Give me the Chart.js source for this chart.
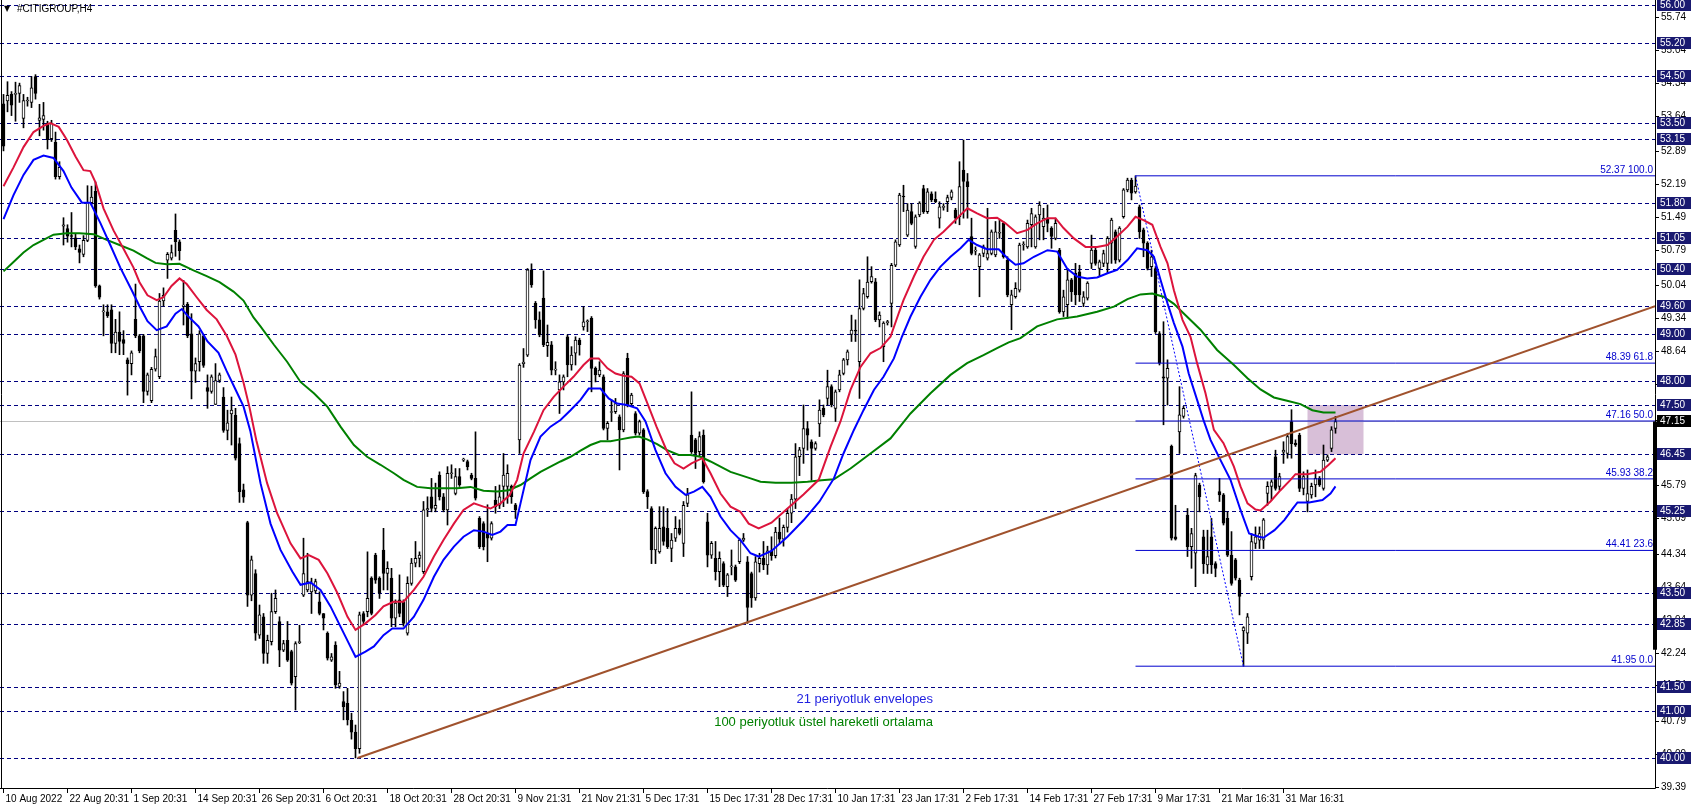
<!DOCTYPE html>
<html lang="tr">
<head>
<meta charset="UTF-8">
<title>#CITIGROUP,H4</title>
<script src="https://cdn.jsdelivr.net/npm/chart.js"></script>
<style>
  html, body { margin: 0; padding: 0; background: #fff; overflow: hidden; }
  canvas { display: block; }
</style>
</head>
<body>
<canvas id="chart" width="1695" height="810"></canvas>
<script>
// time labels of the x axis and the bar index they sit on
const timeLabels = ['10 Aug 2022', '22 Aug 20:31', '1 Sep 20:31', '14 Sep 20:31', '26 Sep 20:31', '6 Oct 20:31',
  '18 Oct 20:31', '28 Oct 20:31', '9 Nov 21:31', '21 Nov 21:31', '5 Dec 17:31', '15 Dec 17:31', '28 Dec 17:31',
  '10 Jan 17:31', '23 Jan 17:31', '2 Feb 17:31', '14 Feb 17:31', '27 Feb 17:31', '9 Mar 17:31', '21 Mar 16:31', '31 Mar 16:31'];
const timeIdx = [0, 16, 32, 48, 64, 80, 96, 112, 128, 144, 160, 176, 192, 208, 224, 240, 256, 272, 288, 304, 320];

// H4 candles: [open, high, low, close], one per bar index
const ohlc = [
  [53.90,54.10,52.90,53.00],[53.96,54.37,53.73,54.08],[54.10,54.16,53.65,53.87],[54.10,54.36,53.53,54.12],[54.12,54.34,53.93,54.29],[53.59,54.10,53.39,53.97],[53.96,54.04,53.85,53.98],[53.93,54.48,53.82,54.24],[54.48,54.52,54.00,54.12],[53.55,53.89,53.22,53.60],
  [53.57,53.93,53.34,53.65],[53.49,53.53,52.94,53.14],[53.16,53.55,53.10,53.49],[53.08,53.30,52.30,52.35],[52.35,52.67,52.30,52.55],[51.30,51.48,50.90,51.33],[51.25,51.33,50.96,51.09],[51.10,51.59,50.86,51.08],[51.05,51.13,50.80,50.86],[50.82,50.90,50.52,50.74],
  [50.70,51.10,50.65,51.00],[51.00,52.16,50.97,51.80],[51.80,52.15,51.75,51.92],[52.04,52.24,50.00,50.03],[50.03,50.05,49.75,49.79],[49.48,49.63,48.97,49.50],[49.48,49.63,49.36,49.40],[49.52,49.63,48.61,48.81],[48.81,49.32,48.61,49.05],[49.05,49.48,48.57,48.85],
  [48.89,49.08,48.57,48.81],[48.46,48.50,47.71,48.38],[48.38,48.65,48.14,48.61],[49.32,50.07,48.93,48.97],[48.97,49.00,48.61,48.65],[48.97,49.00,47.55,47.79],[47.79,48.18,47.71,48.14],[47.59,48.30,47.55,48.26],[48.26,48.69,48.22,48.53],[48.10,49.87,48.06,49.71],
  [49.71,49.99,49.60,49.83],[50.58,50.74,50.19,50.70],[50.62,50.90,50.58,50.74],[51.21,51.56,50.66,50.97],[50.97,51.01,50.58,50.78],[49.60,50.15,49.20,49.62],[49.64,49.68,48.93,48.97],[49.01,49.44,47.63,48.22],[48.22,48.50,47.98,48.38],[48.42,49.08,48.22,49.01],
  [48.97,49.00,48.30,48.34],[47.87,48.14,47.43,47.79],[47.79,48.14,47.75,48.10],[47.51,48.38,47.51,48.02],[48.02,48.18,47.98,48.14],[47.67,47.87,46.92,46.96],[46.96,47.39,46.76,47.12],[47.31,47.67,46.65,47.39],[47.28,47.43,46.33,46.37],[46.68,46.80,45.43,45.66],
  [45.70,45.82,45.43,45.54],[45.00,45.03,43.22,43.46],[43.46,44.29,43.34,44.21],[43.92,44.00,42.50,42.65],[42.61,43.25,42.54,43.04],[43.00,43.07,42.01,42.22],[42.22,42.61,42.01,42.50],[42.47,43.50,42.40,43.11],[43.11,43.57,43.07,43.39],[42.90,43.00,41.94,42.29],
  [42.29,42.50,42.26,42.43],[42.50,42.90,42.05,42.08],[42.26,42.29,41.55,41.59],[41.73,42.47,41.02,42.43],[42.45,42.82,42.43,42.46],[43.46,44.67,43.43,43.92],[43.57,44.35,43.53,43.75],[43.53,43.82,43.07,43.71],[43.55,43.80,43.50,43.75],[43.32,43.53,43.04,43.07],
  [43.07,43.07,42.72,42.97],[42.65,42.68,42.08,42.12],[42.08,42.22,42.05,42.15],[42.40,42.47,41.48,41.55],[41.52,41.84,41.48,41.59],[41.20,41.41,40.81,41.09],[41.16,41.48,40.70,40.81],[40.80,40.95,40.40,40.55],[40.55,40.70,40.00,40.20],[40.20,43.10,40.10,43.04],
  [43.07,43.11,42.83,42.90],[43.11,44.38,43.00,43.39],[43.82,43.85,43.04,43.07],[44.31,44.35,43.71,43.78],[43.82,43.85,43.39,43.50],[44.42,44.88,43.57,43.92],[43.92,44.17,43.57,44.03],[43.82,44.03,42.79,42.97],[42.97,43.36,42.79,43.29],[43.36,43.89,43.00,43.07],
  [43.32,43.36,42.80,42.86],[42.65,43.85,42.61,43.71],[43.71,44.24,43.67,44.14],[44.14,44.60,44.06,44.24],[44.24,44.38,44.06,44.31],[43.96,45.45,43.92,45.27],[45.27,45.55,45.13,45.30],[45.55,45.94,45.23,45.30],[45.30,45.84,45.23,45.37],[46.01,46.08,45.48,45.55],
  [45.55,45.62,45.23,45.27],[45.27,46.19,44.95,46.05],[46.04,46.23,45.94,46.06],[45.62,46.15,45.59,45.98],[45.98,46.15,45.77,45.80],[46.33,46.37,46.30,46.34],[46.30,46.33,46.12,46.19],[46.01,46.05,45.91,45.94],[45.94,46.93,45.48,45.52],[45.09,45.13,44.45,44.49],
  [44.98,45.02,44.42,44.49],[44.77,45.38,44.17,44.67],[44.67,45.02,44.63,44.98],[45.48,45.77,45.20,45.34],[45.37,45.80,45.30,45.55],[45.77,46.47,45.34,46.01],[45.77,46.23,45.41,46.05],[45.77,45.80,45.41,45.55],[45.38,45.41,45.09,45.27],[46.76,48.38,46.47,48.35],
  [48.38,48.70,48.30,48.41],[48.56,50.40,48.53,50.37],[50.37,50.50,50.00,50.05],[49.66,49.70,49.13,49.31],[49.31,49.48,48.95,48.99],[49.77,50.35,48.74,48.78],[48.76,49.20,48.53,48.83],[48.78,48.85,48.14,48.24],[48.24,48.42,48.14,48.25],[47.82,48.14,47.32,47.99],
  [47.99,48.14,47.82,48.10],[48.95,48.99,48.10,48.35],[48.35,48.74,48.24,48.56],[48.60,48.95,48.35,48.88],[48.88,48.92,48.56,48.78],[49.16,49.59,49.09,49.27],[49.27,49.31,49.06,49.28],[49.34,49.38,47.78,48.28],[48.28,48.31,47.99,48.14],[48.14,48.42,48.10,48.24],
  [48.10,48.14,46.97,47.00],[47.00,47.15,46.76,47.11],[47.34,47.61,47.15,47.35],[47.36,47.64,47.32,47.53],[47.25,47.29,46.12,46.97],[46.97,48.21,46.93,48.17],[48.49,48.60,47.46,47.50],[47.53,47.75,47.50,47.71],[47.32,47.36,46.86,46.90],[46.90,47.18,46.86,47.15],
  [46.97,47.00,45.62,45.66],[45.66,45.70,45.30,45.55],[45.30,45.34,44.13,44.42],[44.42,44.91,44.13,44.88],[44.38,45.34,44.35,44.88],[44.91,45.34,44.52,44.60],[44.88,45.30,44.45,44.49],[44.45,44.77,44.17,44.63],[44.67,45.13,44.60,44.88],[44.88,45.06,44.74,44.77],
  [44.56,45.45,44.28,45.37],[45.41,45.73,45.34,45.59],[46.86,47.78,46.47,46.51],[46.76,46.79,46.15,46.47],[46.51,46.93,46.40,46.83],[46.86,46.97,45.84,45.87],[45.02,45.20,44.06,44.31],[44.31,44.60,44.24,44.56],[44.24,44.60,43.78,43.96],[43.96,44.38,43.64,44.24],
  [44.13,44.17,43.64,43.67],[43.64,43.92,43.43,43.89],[44.06,44.42,43.89,44.07],[44.06,44.10,43.75,43.78],[44.17,44.67,44.13,44.63],[44.63,44.77,44.60,44.67],[44.17,44.28,42.86,43.20],[43.92,43.95,43.20,43.40],[43.40,44.28,43.35,44.17],[44.13,44.35,43.95,44.24],
  [44.24,44.60,44.00,44.10],[44.10,44.50,43.90,44.40],[44.40,44.70,44.20,44.30],[44.30,44.90,44.25,44.80],[44.80,45.10,44.55,44.65],[44.65,44.95,44.50,44.90],[44.90,45.30,44.80,45.20],[45.20,45.60,45.00,45.50],[45.50,46.68,45.30,46.40],[46.40,46.60,46.00,46.55],
  [46.58,47.50,46.26,47.00],[47.00,47.15,46.54,46.86],[46.72,46.76,45.90,46.58],[46.58,46.72,46.54,46.68],[47.10,47.61,46.83,47.39],[47.43,47.50,47.25,47.29],[47.64,48.24,47.50,47.89],[47.89,47.93,47.46,47.50],[47.43,47.82,47.15,47.78],[47.82,48.24,47.78,48.14],
  [48.17,48.49,48.14,48.46],[48.46,48.67,48.35,48.63],[49.00,49.41,48.85,49.09],[49.08,49.31,48.85,49.07],[48.42,50.16,47.64,49.55],[49.55,49.98,49.52,49.87],[49.80,50.65,49.77,50.11],[50.12,50.44,50.09,50.23],[50.12,50.19,49.27,49.31],[49.31,49.48,49.16,49.41],
  [48.74,49.27,48.42,49.24],[49.25,49.30,49.20,49.26],[49.66,50.51,49.16,50.47],[50.47,51.01,50.44,50.97],[50.90,52.00,50.87,51.96],[51.93,52.17,51.61,51.92],[51.11,51.78,51.08,51.64],[51.61,51.78,51.33,51.36],[50.87,51.54,50.83,51.50],[51.54,51.82,51.50,51.79],
  [52.10,52.17,51.57,51.61],[51.61,52.10,51.57,52.03],[51.99,52.03,51.82,51.86],[51.87,52.03,51.80,51.82],[51.47,51.82,51.26,51.71],[51.70,51.78,51.64,51.71],[51.82,51.96,51.61,51.91],[51.91,52.07,51.86,52.03],[51.64,51.68,51.36,51.47],[51.50,52.67,51.33,52.14],
  [52.49,53.13,51.47,52.25],[52.25,52.42,51.47,52.14],[51.08,51.47,50.69,50.72],[50.77,50.86,50.69,50.79],[50.44,50.72,49.80,50.69],[50.72,50.90,50.65,50.86],[50.62,51.68,50.58,50.72],[50.72,51.22,50.69,51.18],[50.69,51.40,50.65,51.18],[51.15,51.43,51.04,51.16],
  [51.36,51.40,50.62,50.65],[50.58,50.65,49.80,49.84],[49.63,49.94,49.10,49.84],[49.80,50.10,49.77,49.98],[49.94,50.94,49.90,50.90],[50.90,50.97,50.79,50.91],[50.86,51.43,50.83,51.36],[51.33,51.68,50.86,51.57],[50.86,51.54,50.83,51.50],[51.54,51.82,51.01,51.75],
  [51.29,51.68,51.01,51.47],[51.47,51.75,51.18,51.36],[51.26,51.29,50.83,51.08],[51.04,51.47,51.01,51.36],[50.79,50.83,49.45,49.48],[49.48,49.94,49.38,49.80],[49.63,50.40,49.34,50.16],[50.16,50.19,49.70,49.91],[50.30,50.51,49.63,49.84],[50.33,50.47,49.70,49.84],
  [49.66,49.91,49.59,49.80],[49.77,50.12,49.73,50.09],[50.51,51.11,50.40,50.79],[50.79,50.83,50.47,50.51],[50.40,50.58,50.23,50.54],[50.51,50.79,50.44,50.72],[50.51,51.08,50.30,51.04],[50.94,51.47,50.51,51.43],[51.18,51.22,50.51,50.58],[50.58,51.29,50.54,51.26],
  [51.50,52.10,51.47,52.07],[52.07,52.32,52.03,52.28],[52.28,52.32,51.86,52.00],[52.03,52.37,52.00,52.15],[51.71,51.75,51.04,51.18],[51.22,51.26,50.65,50.94],[50.94,50.97,50.37,50.40],[50.44,50.79,50.23,50.65],[50.40,50.44,49.02,49.06],[49.02,49.06,48.35,48.39],
  [48.10,49.27,47.08,48.07],[48.07,48.46,47.50,48.28],[46.62,46.65,44.63,44.67],[44.70,45.37,44.63,44.65],[46.93,47.89,46.47,47.29],[47.26,47.47,47.22,47.43],[45.16,45.30,44.28,44.49],[44.49,44.88,44.03,44.77],[44.35,46.05,43.64,46.00],[45.80,45.84,45.23,45.55],
  [44.70,44.84,43.92,44.13],[44.10,44.84,43.92,44.28],[44.70,45.09,43.92,44.10],[44.13,44.17,43.85,44.03],[45.66,45.94,45.45,45.59],[45.59,45.62,44.95,44.99],[45.09,45.23,44.28,44.31],[44.31,44.81,43.67,43.71],[44.21,44.24,43.78,43.82],[43.78,43.82,43.04,43.43],
  [42.70,42.79,41.95,42.77],[42.65,43.07,42.43,43.00],[43.85,44.77,43.78,44.60],[44.56,44.91,44.45,44.70],[44.63,44.91,44.45,44.77],[44.63,45.09,44.45,45.06],[45.62,45.87,45.37,45.77],[45.77,45.91,45.48,45.87],[46.40,46.54,45.69,45.73],[45.77,46.05,45.69,45.98],
  [46.50,46.72,46.26,46.54],[46.47,46.90,46.37,46.83],[47.15,47.40,46.37,46.68],[46.69,46.76,46.62,46.65],[46.86,46.90,45.66,45.73],[45.73,46.08,45.59,45.98],[45.45,46.12,45.23,45.62],[45.59,45.84,45.52,45.77],[45.80,46.12,45.55,45.94],[45.94,45.98,45.77,45.80],
  [45.73,46.65,45.69,46.33],[46.33,46.44,46.30,46.40],[46.58,47.04,46.51,46.97],[47.00,47.26,46.90,47.15]
];

// 21 period envelopes (upper red / lower blue), [bar, price]
const envUpper = [[0,52.15],[2.5,52.55],[5,52.98],[7.5,53.30],[10,53.43],[11.7,53.49],[13.8,53.41],[15.8,53.14],[18,52.78],[20,52.49],[21.7,52.47],[23,52.23],[25,51.68],[27.5,51.21],[30,50.82],[32.5,50.42],[34,50.11],[36,49.83],[38.3,49.73],[40,49.79],[42,50.03],[44,50.19],[45.8,50.07],[48.3,49.79],[50.8,49.52],[53.3,49.32],[55.8,48.97],[58,48.57],[60,47.98],[61.5,47.45],[63.2,46.75],
  [65.9,45.84],[68.4,45.20],[71.75,44.56],[74.25,44.24],[76.3,44.31],[78.8,44.21],[81,43.92],[83.5,43.50],[86,43.00],[88,42.72],[90.5,42.86],[93,43.04],[95,43.22],[97.5,43.32],[100,43.32],[102.6,43.57],[105,43.85],[107.6,44.28],[110,44.63],[112.6,44.98],[115,45.27],[117.6,45.41],[120,45.34],[121.75,45.30],[124.25,45.41],[126.5,45.58],
  [128.4,45.91],[130,46.47],[132.6,46.93],[135,47.39],[137.6,47.68],[140,47.89],[142.5,48.10],[145,48.35],[146.75,48.49],[148.8,48.49],[151,48.28],[153,48.17],[155,48.12],[157,48.10],[159,47.96],[161,47.53],[163.25,47.04],[165.75,46.54],[167.75,46.26],[170,46.15],[172,46.26],[174.7,46.37],[176.75,46.05],[179.25,45.62],[181.75,45.34],[184.25,45.23],[186.3,44.98],[188.8,44.88],
  [192,45.00],[196,45.30],[200,45.60],[203.8,45.91],[206.75,46.61],[209.25,47.15],[211.75,47.82],[214.25,48.31],[216.75,48.60],[219.25,48.71],[221.75,48.95],[223.8,49.45],[225,49.73],[227.6,50.23],[230,50.65],[232.6,51.01],[235,51.18],[237.6,51.40],[239.25,51.54],[241,51.68],[243.4,51.57],[245.9,51.47],[248.4,51.48],[250.5,51.36],
  [253.4,51.15],[256,51.22],[258.4,51.36],[261,51.47],[263,51.47],[265,51.26],[267.6,51.04],[270.5,50.86],[273.4,50.86],[276,50.90],[278.4,51.08],[281,51.29],[283,51.50],[285,51.43],[287.2,51.33],[289.25,50.86],[291,50.51],[292.6,49.94],[294.75,49.31],[296.75,48.95],[298.4,48.39],[300.5,47.75],[302.6,46.97],[305,46.69],[307.6,46.19],[309.25,45.77],[311,45.41],[313,45.28],
  [314.25,45.26],[316.75,45.45],[319.25,45.69],[321.75,45.91],[323,46.03],[325.9,46.03],[329.25,46.08],[331.3,46.23],[333,46.37]];
const envLower = [[0,51.45],[2.5,51.96],[5,52.39],[7.5,52.71],[10,52.80],[12.5,52.75],[15,52.47],[17,52.12],[19.6,51.80],[21.7,51.80],[24.2,51.37],[26.7,50.90],[29.2,50.42],[32,49.95],[34,49.60],[36,49.28],[38.3,49.09],[40.8,49.17],[43,49.44],[44.6,49.54],[46,49.40],[48.75,49.17],[51,48.85],[53.75,48.61],[55.8,48.22],[58,47.83],[60,47.47],[61.7,46.95],
  [64.25,45.84],[66.75,44.98],[69.25,44.42],[72.2,43.96],[74.25,43.68],[76.75,43.73],[79.25,43.57],[81.75,43.22],[84.25,42.79],[86.3,42.44],[88,42.15],[90.5,42.26],[92.6,42.37],[95,42.61],[97.2,42.75],[100,42.75],[102.6,43.00],[105,43.36],[107.6,43.85],[110,44.21],[112.6,44.49],[115,44.70],[117.6,44.84],[120,44.81],[122.2,44.74],[124.25,44.81],
  [126,44.95],[128,44.95],[129.25,45.41],[131.75,46.33],[134.25,46.83],[136.75,47.04],[139.25,47.18],[141.75,47.39],[144.25,47.61],[146.3,47.85],[149.25,47.85],[151.3,47.64],[153.4,47.53],[155.9,47.50],[158.4,47.43],[160.5,47.15],[163,46.54],[165.5,46.05],[168,45.76],[170.5,45.59],[172.6,45.66],[174.7,45.76],[176.75,45.55],[179.25,45.13],[181.75,44.84],[184.25,44.63],[186.75,44.35],[188.8,44.28],
  [192,44.40],[196,44.70],[200,45.05],[204,45.45],[207.6,45.94],[210,46.47],[212.6,46.97],[215,47.39],[217.6,47.82],[220,48.10],[222.6,48.49],[224.6,48.95],[226.75,49.38],[229.25,49.80],[231.75,50.16],[234.25,50.44],[236.75,50.65],[239.25,50.83],[241.3,51.01],[243.4,50.90],[245.9,50.81],[248.8,50.81],
  [251,50.62],[253,50.48],[255,50.51],[257.6,50.65],[261,50.79],[263.4,50.76],[265.9,50.40],[268.4,50.23],[270.9,50.19],[273.4,50.21],[276,50.30],[278.4,50.37],[281,50.58],[283.4,50.83],[286,50.79],[287.6,50.65],[289.25,50.16],[291,49.66],[292.6,49.24],[294.75,48.74],[296.3,48.17],[298.4,47.61],[300,47.18],[301.75,46.76],[304.25,46.33],[306.75,45.91],[309.25,45.27],[311.4,44.77],[313.9,44.70],
  [315,44.68],[317.75,44.84],[320.25,45.06],[322.3,45.30],[323.5,45.43],[326.4,45.43],[329.75,45.48],[331.75,45.62],[333,45.77]];
// 100 period EMA (green), [bar, price]
const ema100 = [[0,50.34],[2.5,50.54],[5,50.74],[7.5,50.90],[10,51.01],[12.5,51.12],[15.8,51.15],[19,51.15],[22.5,51.13],[25.8,51.01],[29,50.90],[32.5,50.78],[35.8,50.62],[38,50.52],[40.8,50.49],[44,50.50],[47.5,50.36],[50.8,50.24],[54,50.11],[57.5,49.91],[60,49.72],[62.5,49.36],
  [64.25,49.17],[67.6,48.78],[70.9,48.42],[74.25,47.99],[77.6,47.75],[81,47.46],[84.25,47.04],[87.6,46.65],[90.9,46.40],[94.25,46.23],[97.6,46.05],[100,45.91],[103.4,45.76],[106.75,45.73],[110,45.73],[113.4,45.73],[116.75,45.76],[120,45.68],[123.4,45.66],[126.3,45.69],
  [129.25,45.80],[131.75,45.94],[134.25,46.08],[136.75,46.19],[139.25,46.30],[141.75,46.40],[144.25,46.53],[146.75,46.65],[149.25,46.73],[151.75,46.73],[154.25,46.77],[156.75,46.81],[158.8,46.83],[160.9,46.77],[163.4,46.67],[165.9,46.54],[168.8,46.44],[171.75,46.44],[174.25,46.40],[176.75,46.30],[179.25,46.19],[181.75,46.08],[184.25,46.01],[186.75,45.94],[189.25,45.87],
  [193,45.85],[197,45.85],[201,45.87],[204.5,45.90],[207.6,45.92],[211.75,46.15],[216.75,46.47],[221.75,46.79],[226.75,47.32],[231.75,47.75],[236.75,48.14],[240.9,48.39],[245,48.56],[248.4,48.71],[251.3,48.83],
  [254.25,48.92],[258.4,49.17],[263.4,49.32],[268.4,49.38],[273.4,49.48],[277.6,49.59],[281,49.75],[284.25,49.85],[287.2,49.87],[290,49.80],[292.6,49.65],[295,49.45],[299.25,49.10],[303.4,48.67],[307.6,48.35],[311,48.07],
  [314.25,47.83],[317.6,47.66],[320.9,47.59],[324.25,47.52],[327.2,47.39],[330,47.34],[333,47.34]];

// horizontal levels, axis ticks, fibonacci, trend line
const levels = [56.00, 55.20, 54.50, 53.50, 53.15, 51.80, 51.05, 50.40, 49.60, 49.00, 48.00, 47.50, 46.45, 45.25, 43.50, 42.85, 41.50, 41.00, 40.00];
const tickValues = [55.74, 55.04, 54.34, 53.64, 52.89, 52.19, 51.49, 50.79, 50.04, 49.34, 48.64, 47.94, 47.19, 46.49, 45.79, 45.09, 44.34, 43.64, 42.94, 42.24, 41.54, 40.79, 40.09, 39.39];
const fibPrices = [52.37, 48.39, 47.16, 45.93, 44.41, 41.95];
const fibPct = ['100.0', '61.8', '50.0', '38.2', '23.6', '0.0'];
const fibFrom = 283, fibTo = 310;
const trendline = [[88.5, 40.00], [412.9, 49.60]];
const bidPrice = 47.15;
const zoneBox = [326, 340, 46.45, 47.50];   // bar from, bar to, price low, price high
const notes = [
  { text: '21 periyotluk envelopes', bar: 232.4, price: 41.25, color: '#1f1fe0' },
  { text: '100 periyotluk üstel hareketli ortalama', bar: 232.4, price: 40.76, color: '#008000' }
];

const X_MIN = -0.875, X_MAX = 412.875;
const Y_MIN = 39.3617, Y_MAX = 56.0637;
const FONT = '10px "Liberation Sans", Arial, sans-serif';

const pts = arr => arr.map(p => ({ x: p[0], y: p[1] }));
const wickData = ohlc.map((r, i) => ({ x: i, y: [r[2], r[1]] }));
const bodyData = ohlc.map((r, i) => ({ x: i, y: [Math.min(r[0], r[3]), Math.max(r[0], r[3])] }));
const bodyFill = ohlc.map(r => (r[3] >= r[0] ? '#ffffff' : '#000000'));

const lineDs = (data, color, width, order, extra) => Object.assign({
  type: 'line', data: data, borderColor: color, borderWidth: width,
  pointRadius: 0, tension: 0, fill: false, order: order
}, extra || {});

const datasets = [
  lineDs(pts(trendline), '#a0522d', 2, 0),
  lineDs(pts(envUpper), '#dc143c', 2, 1),
  lineDs(pts(envLower), '#0000ff', 2, 1),
  lineDs(pts(ema100), '#008000', 2, 1),
  lineDs([{ x: fibFrom, y: fibPrices[0] }, { x: fibTo, y: fibPrices[fibPrices.length - 1] }], '#0000ff', 1, 2, { borderDash: [2, 2] })
];
fibPrices.forEach(p => datasets.push(lineDs([{ x: fibFrom, y: p }, { x: X_MAX, y: p }], '#0000cd', 1, 2)));
datasets.push({
  type: 'bar', data: bodyData, backgroundColor: bodyFill, borderColor: '#000', borderWidth: 1,
  borderSkipped: false, barThickness: 3, grouped: false, minBarLength: 1, order: 3
});
datasets.push({
  type: 'bar', data: wickData, backgroundColor: '#000', borderWidth: 0,
  barThickness: 1, grouped: false, order: 4
});

function hline(ctx, x1, x2, py) {
  ctx.beginPath(); ctx.moveTo(x1, py); ctx.lineTo(x2, py); ctx.stroke();
}

const overlay = {
  id: 'overlay',
  beforeDatasetsDraw(chart) {
    const { ctx, chartArea: a, scales: { x, y } } = chart;
    ctx.save();
    // shaded zone
    const bx1 = x.getPixelForValue(zoneBox[0]), bx2 = x.getPixelForValue(zoneBox[1]);
    const by1 = y.getPixelForValue(zoneBox[3]), by2 = y.getPixelForValue(zoneBox[2]);
    ctx.fillStyle = '#d8bfd8';
    ctx.fillRect(bx1, by1, bx2 - bx1, by2 - by1);
    // bid line
    ctx.lineWidth = 1;
    ctx.strokeStyle = '#c0c0c0';
    hline(ctx, a.left, a.right, Math.round(y.getPixelForValue(bidPrice)) + 0.5);
    // dashed levels
    ctx.strokeStyle = '#000080';
    ctx.setLineDash([4, 3]);
    levels.forEach(v => hline(ctx, a.left, a.right, Math.round(y.getPixelForValue(v)) + 0.5));
    ctx.restore();
  },
  afterDraw(chart) {
    const { ctx, chartArea: a, scales: { x, y } } = chart;
    ctx.save();
    ctx.lineWidth = 1;
    ctx.strokeStyle = '#000';
    // frame
    ctx.beginPath();
    ctx.moveTo(1.5, 0); ctx.lineTo(1.5, a.bottom + 0.5);
    ctx.moveTo(0, a.bottom + 0.5); ctx.lineTo(a.right + 0.5, a.bottom + 0.5);
    ctx.moveTo(a.right + 0.5, 0); ctx.lineTo(a.right + 0.5, a.bottom + 0.5);
    ctx.stroke();

    // price axis ticks
    ctx.font = FONT;
    ctx.textAlign = 'left';
    ctx.textBaseline = 'middle';
    ctx.fillStyle = '#000';
    tickValues.forEach(v => {
      const py = Math.round(y.getPixelForValue(v)) + 0.5;
      hline(ctx, a.right, a.right + 4, py);
      ctx.fillText(v.toFixed(2), a.right + 6, py);
    });

    // black bar on the axis
    const t1 = y.getPixelForValue(bidPrice), t2 = y.getPixelForValue(42.3);
    ctx.fillRect(a.right - 2, t1, 4, t2 - t1);

    // level boxes
    levels.forEach(v => {
      const py = Math.round(y.getPixelForValue(v));
      ctx.fillStyle = '#191970';
      ctx.fillRect(a.right + 2, py - 6, 34, 12);
      ctx.fillStyle = '#fff';
      ctx.fillText(v.toFixed(2), a.right + 5, py);
    });
    const bp = Math.round(y.getPixelForValue(bidPrice));
    ctx.fillStyle = '#000';
    ctx.fillRect(a.right + 2, bp - 6, 34, 12);
    ctx.fillStyle = '#fff';
    ctx.fillText(bidPrice.toFixed(2), a.right + 5, bp);

    // fibonacci labels
    ctx.fillStyle = '#0000cd';
    ctx.textAlign = 'right';
    ctx.textBaseline = 'bottom';
    fibPrices.forEach((p, k) => ctx.fillText(p.toFixed(2) + ' ' + fibPct[k], a.right - 2, y.getPixelForValue(p) - 1));

    // time axis
    ctx.fillStyle = '#000';
    ctx.textAlign = 'left';
    ctx.textBaseline = 'middle';
    timeIdx.forEach((t, k) => {
      const px = Math.round(x.getPixelForValue(t)) - 0.5;
      ctx.beginPath(); ctx.moveTo(px, a.bottom); ctx.lineTo(px, a.bottom + 5); ctx.stroke();
      ctx.fillText(timeLabels[k], px + 2, a.bottom + 11);
    });

    // title
    ctx.font = '8px "DejaVu Sans", sans-serif';
    ctx.fillText('▼', 4, 9);
    ctx.font = FONT;
    ctx.fillText('#CITIGROUP,H4', 17, 9);

    // notes
    ctx.font = '13px "Liberation Sans", Arial, sans-serif';
    ctx.textAlign = 'right';
    notes.forEach(n => {
      ctx.fillStyle = n.color;
      ctx.fillText(n.text, x.getPixelForValue(n.bar), y.getPixelForValue(n.price));
    });
    ctx.restore();
  }
};

new Chart(document.getElementById('chart'), {
  type: 'bar',
  data: { datasets: datasets },
  options: {
    responsive: false,
    devicePixelRatio: 1,
    animation: false,
    events: [],
    layout: { padding: { left: 0, top: 2, right: 40, bottom: 22 } },
    plugins: { legend: { display: false }, tooltip: { enabled: false } },
    scales: {
      x: { type: 'linear', min: X_MIN, max: X_MAX, offset: false, display: false },
      y: { type: 'linear', min: Y_MIN, max: Y_MAX, display: false }
    }
  },
  plugins: [overlay]
});
</script>
</body>
</html>
